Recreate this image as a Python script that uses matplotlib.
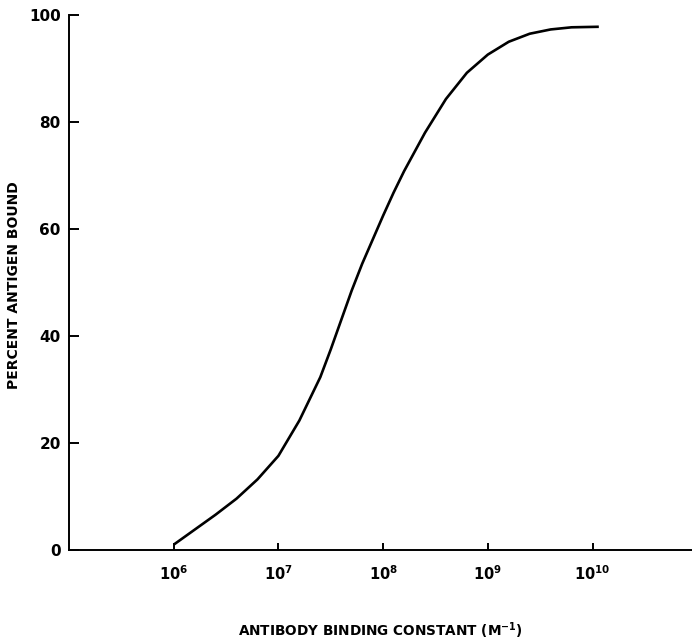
# Antigen binding vs antibody binding constant
import matplotlib.pyplot as plt
import numpy as np

plt.rcParams['font.family'] = ['DejaVu Sans']
plt.rcParams['mathtext.fontset'] = 'dejavusans'
plt.rcParams['mathtext.default'] = 'bf'

# log10 of binding constant, percent bound
log_k = [6.0, 6.2, 6.4, 6.6, 6.8, 7.0, 7.2, 7.4, 7.5, 7.6, 7.7, 7.8, 7.9,
         8.0, 8.1, 8.2, 8.4, 8.6, 8.8, 9.0, 9.2, 9.4, 9.6, 9.8, 10.06]
percent = [1.0, 3.8, 6.6, 9.6, 13.2, 17.6, 24.2, 32.3, 37.5, 43.0, 48.5, 53.5,
           58.0, 62.5, 66.8, 70.8, 78.0, 84.3, 89.2, 92.6, 95.0, 96.5, 97.3,
           97.7, 97.8]
x_ticks = [6, 7, 8, 9, 10]
y_ticks = [0, 20, 40, 60, 80, 100]

k = 10.0 ** np.array(log_k)

fig = plt.figure(figsize=(6.92, 6.4), dpi=100)
ax = fig.add_axes([69 / 692, 90 / 640, 1 - 69 / 692, 535 / 640])

ax.plot(k, percent, color='black', linewidth=1.9, solid_capstyle='butt',
        solid_joinstyle='round')

ax.set_xscale('log')
ax.set_xlim(1e5, 10 ** 10.95)
ax.set_ylim(0, 100)

ax.set_xticks([10.0 ** t for t in x_ticks])
ax.set_xticklabels(['$10^{%d}$' % t for t in x_ticks])
ax.xaxis.set_minor_locator(plt.NullLocator())
ax.set_yticks(y_ticks)
ax.set_yticklabels([str(v) for v in y_ticks], fontweight='bold')

ax.spines['top'].set_visible(False)
ax.spines['right'].set_visible(False)
ax.spines['left'].set_linewidth(1.4)
ax.spines['bottom'].set_linewidth(1.4)

ax.tick_params(axis='y', direction='in', length=7.5, width=1.4, labelsize=11, pad=6)
ax.tick_params(axis='x', direction='in', length=5, width=1.4, labelsize=10.5, pad=10)

# axis titles placed directly on the figure
fig.text(380 / 692, 1 - 631 / 640, 'ANTIBODY BINDING CONSTANT (M$^{-1}$)',
         ha='center', va='center', fontsize=9.8, fontweight='bold')
fig.text(14 / 692, 1 - 285 / 640, 'PERCENT ANTIGEN BOUND', rotation=90,
         ha='center', va='center', fontsize=10, fontweight='bold')

plt.savefig('out.png', dpi=100)
plt.close()
